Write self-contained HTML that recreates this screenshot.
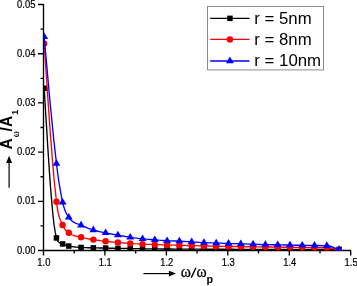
<!DOCTYPE html>
<html><head><meta charset="utf-8"><title>A_omega/A_1 vs omega/omega_p</title>
<style>
html,body{margin:0;padding:0;background:#fff;}
body{width:357px;height:286px;overflow:hidden;position:relative;font-family:"Liberation Sans",sans-serif;}
</style></head><body>
<svg width="357" height="286" viewBox="0 0 357 286" style="position:absolute;left:0;top:0;display:block">
<defs>
<filter id="g" x="0" y="0" width="357" height="286" filterUnits="userSpaceOnUse" color-interpolation-filters="sRGB"><feColorMatrix type="saturate" values="0"/></filter>
<clipPath id="c"><rect x="44.1" y="0" width="312.9" height="251.1"/></clipPath>
</defs>
<rect x="0" y="0" width="357" height="286" fill="#fff"/>
<path d="M43.5,4 L43.5,251 M43,250.45 L351,250.45 M38,250.5 L43.5,250.5 M40.5,225.9 L43.5,225.9 M38,201.3 L43.5,201.3 M40.5,176.7 L43.5,176.7 M38,152.1 L43.5,152.1 M40.5,127.5 L43.5,127.5 M38,102.9 L43.5,102.9 M40.5,78.3 L43.5,78.3 M38,53.7 L43.5,53.7 M40.5,29.1 L43.5,29.1 M38,4.5 L43.5,4.5 M43.5,250.5 L43.5,255.5 M74.2,250.5 L74.2,253.5 M104.9,250.5 L104.9,255.5 M135.7,250.5 L135.7,253.5 M166.4,250.5 L166.4,255.5 M197.1,250.5 L197.1,253.5 M227.8,250.5 L227.8,255.5 M258.5,250.5 L258.5,253.5 M289.3,250.5 L289.3,255.5 M320.0,250.5 L320.0,253.5 M350.7,250.5 L350.7,255.5" fill="none" stroke="#000" stroke-width="1.35"/>
<g clip-path="url(#c)">
<path d="M44.2,88.2 L45.4,108.8 L46.7,129.1 L47.9,148.7 L49.1,167.2 L50.3,184.4 L51.6,199.9 L52.8,213.4 L54.0,224.4 L55.3,232.7 L56.5,238.0 L57.1,239.6 L57.7,240.8 L58.3,241.7 L58.9,242.3 L59.6,242.7 L60.2,243.0 L60.8,243.2 L61.4,243.4 L62.0,243.7 L62.6,244.0 L63.2,244.4 L63.9,244.7 L64.5,245.0 L65.1,245.2 L65.7,245.4 L66.3,245.6 L66.9,245.7 L67.5,245.8 L68.2,246.0 L68.8,246.1 L70.0,246.4 L71.2,246.6 L72.5,246.7 L73.7,246.9 L74.9,247.0 L76.1,247.1 L77.4,247.2 L78.6,247.2 L79.8,247.3 L81.1,247.4 L82.3,247.5 L83.5,247.5 L84.8,247.6 L86.0,247.6 L87.2,247.7 L88.4,247.7 L89.7,247.7 L90.9,247.7 L92.1,247.8 L93.4,247.8 L94.6,247.8 L95.8,247.9 L97.0,247.9 L98.3,247.9 L99.5,248.0 L100.7,248.0 L102.0,248.0 L103.2,248.0 L104.4,248.1 L105.6,248.1 L106.9,248.1 L108.1,248.1 L109.3,248.2 L110.6,248.2 L111.8,248.2 L113.0,248.2 L114.2,248.2 L115.5,248.3 L116.7,248.3 L117.9,248.3 L119.2,248.3 L120.4,248.3 L121.6,248.4 L122.8,248.4 L124.1,248.4 L125.3,248.4 L126.5,248.4 L127.8,248.5 L129.0,248.5 L130.2,248.5 L134.3,248.6 L138.4,248.6 L142.5,248.7 L146.6,248.8 L150.7,248.8 L154.8,248.9 L158.9,248.9 L163.0,249.0 L167.1,249.0 L171.2,249.0 L175.3,249.1 L179.4,249.1 L183.5,249.1 L187.6,249.1 L191.7,249.1 L195.8,249.1 L199.8,249.2 L203.9,249.2 L208.0,249.2 L212.1,249.2 L216.2,249.2 L220.3,249.2 L224.4,249.2 L228.5,249.2 L232.6,249.2 L236.7,249.3 L240.8,249.3 L244.9,249.3 L249.0,249.3 L253.1,249.3 L257.2,249.3 L261.3,249.3 L265.4,249.3 L269.5,249.3 L273.6,249.3 L277.7,249.3 L281.8,249.3 L285.9,249.4 L290.0,249.4 L294.1,249.4 L298.2,249.4 L302.2,249.4 L306.3,249.4 L310.4,249.4 L314.5,249.4 L318.6,249.4 L322.7,249.4 L326.8,249.4 L330.9,249.4 L335.0,249.3 L339.1,249.3" fill="none" stroke="#000" stroke-width="1.35" stroke-linejoin="round"/>
<g fill="#000"><rect x="41.5" y="85.5" width="5.5" height="5.5"/><rect x="53.7" y="235.2" width="5.5" height="5.5"/><rect x="59.9" y="241.2" width="5.5" height="5.5"/><rect x="66.0" y="243.3" width="5.5" height="5.5"/><rect x="78.3" y="244.7" width="5.5" height="5.5"/><rect x="90.6" y="245.1" width="5.5" height="5.5"/><rect x="102.9" y="245.3" width="5.5" height="5.5"/><rect x="115.2" y="245.6" width="5.5" height="5.5"/><rect x="127.5" y="245.8" width="5.5" height="5.5"/><rect x="139.8" y="245.9" width="5.5" height="5.5"/><rect x="152.0" y="246.2" width="5.5" height="5.5"/><rect x="164.3" y="246.2" width="5.5" height="5.5"/><rect x="176.6" y="246.3" width="5.5" height="5.5"/><rect x="188.9" y="246.3" width="5.5" height="5.5"/><rect x="201.2" y="246.4" width="5.5" height="5.5"/><rect x="213.5" y="246.4" width="5.5" height="5.5"/><rect x="225.8" y="246.4" width="5.5" height="5.5"/><rect x="238.1" y="246.6" width="5.5" height="5.5"/><rect x="250.3" y="246.6" width="5.5" height="5.5"/><rect x="262.6" y="246.6" width="5.5" height="5.5"/><rect x="274.9" y="246.6" width="5.5" height="5.5"/><rect x="287.2" y="246.7" width="5.5" height="5.5"/><rect x="299.5" y="246.7" width="5.5" height="5.5"/><rect x="311.8" y="246.7" width="5.5" height="5.5"/><rect x="324.1" y="246.7" width="5.5" height="5.5"/><rect x="336.4" y="246.6" width="5.5" height="5.5"/></g>
<path d="M44.2,43.6 L45.4,62.2 L46.7,80.6 L47.9,98.7 L49.1,116.3 L50.3,133.2 L51.6,149.3 L52.8,164.3 L54.0,178.2 L55.3,190.8 L56.5,201.8 L57.1,206.5 L57.7,210.3 L58.3,213.4 L58.9,215.8 L59.6,217.9 L60.2,219.5 L60.8,220.9 L61.4,222.2 L62.0,223.6 L62.6,225.0 L63.2,226.4 L63.9,227.6 L64.5,228.6 L65.1,229.5 L65.7,230.2 L66.3,230.8 L66.9,231.4 L67.5,231.8 L68.2,232.3 L68.8,232.8 L70.0,233.7 L71.2,234.4 L72.5,235.0 L73.7,235.5 L74.9,235.9 L76.1,236.2 L77.4,236.5 L78.6,236.7 L79.8,237.0 L81.1,237.3 L82.3,237.6 L83.5,237.9 L84.8,238.2 L86.0,238.4 L87.2,238.6 L88.4,238.8 L89.7,239.0 L90.9,239.2 L92.1,239.4 L93.4,239.6 L94.6,239.8 L95.8,240.0 L97.0,240.2 L98.3,240.3 L99.5,240.5 L100.7,240.7 L102.0,240.8 L103.2,241.0 L104.4,241.2 L105.6,241.3 L106.9,241.4 L108.1,241.6 L109.3,241.7 L110.6,241.8 L111.8,242.0 L113.0,242.1 L114.2,242.2 L115.5,242.3 L116.7,242.4 L117.9,242.5 L119.2,242.6 L120.4,242.7 L121.6,242.8 L122.8,242.9 L124.1,243.0 L125.3,243.1 L126.5,243.2 L127.8,243.2 L129.0,243.3 L130.2,243.4 L134.3,243.7 L138.4,243.9 L142.5,244.1 L146.6,244.3 L150.7,244.4 L154.8,244.6 L158.9,244.7 L163.0,244.9 L167.1,245.0 L171.2,245.1 L175.3,245.2 L179.4,245.3 L183.5,245.4 L187.6,245.5 L191.7,245.6 L195.8,245.7 L199.8,245.8 L203.9,245.9 L208.0,246.0 L212.1,246.1 L216.2,246.2 L220.3,246.3 L224.4,246.3 L228.5,246.4 L232.6,246.5 L236.7,246.5 L240.8,246.6 L244.9,246.7 L249.0,246.7 L253.1,246.8 L257.2,246.9 L261.3,246.9 L265.4,247.0 L269.5,247.0 L273.6,247.1 L277.7,247.1 L281.8,247.2 L285.9,247.2 L290.0,247.3 L294.1,247.3 L298.2,247.4 L302.2,247.4 L306.3,247.4 L310.4,247.5 L314.5,247.5 L318.6,247.5 L322.7,247.5 L326.8,247.6 L330.9,248.2 L335.0,249.3 L339.1,250.4" fill="none" stroke="#f00" stroke-width="1.35" stroke-linejoin="round"/>
<g fill="#f00"><circle cx="44.2" cy="43.6" r="3.2"/><circle cx="56.5" cy="201.8" r="3.2"/><circle cx="62.6" cy="225.0" r="3.2"/><circle cx="68.8" cy="232.8" r="3.2"/><circle cx="81.1" cy="237.3" r="3.2"/><circle cx="93.4" cy="239.6" r="3.2"/><circle cx="105.6" cy="241.3" r="3.2"/><circle cx="117.9" cy="242.5" r="3.2"/><circle cx="130.2" cy="243.4" r="3.2"/><circle cx="142.5" cy="244.1" r="3.2"/><circle cx="154.8" cy="244.6" r="3.2"/><circle cx="167.1" cy="245.0" r="3.2"/><circle cx="179.4" cy="245.3" r="3.2"/><circle cx="191.7" cy="245.6" r="3.2"/><circle cx="203.9" cy="245.9" r="3.2"/><circle cx="216.2" cy="246.2" r="3.2"/><circle cx="228.5" cy="246.4" r="3.2"/><circle cx="240.8" cy="246.6" r="3.2"/><circle cx="253.1" cy="246.8" r="3.2"/><circle cx="265.4" cy="247.0" r="3.2"/><circle cx="277.7" cy="247.1" r="3.2"/><circle cx="290.0" cy="247.3" r="3.2"/><circle cx="302.2" cy="247.4" r="3.2"/><circle cx="314.5" cy="247.5" r="3.2"/><circle cx="326.8" cy="247.6" r="3.2"/><circle cx="339.1" cy="250.4" r="3.2"/></g>
<path d="M44.2,36.9 L45.4,50.8 L46.7,64.6 L47.9,78.3 L49.1,91.7 L50.3,104.9 L51.6,117.7 L52.8,130.0 L54.0,141.8 L55.3,153.0 L56.5,163.6 L57.1,168.6 L57.7,173.3 L58.3,177.8 L58.9,182.0 L59.6,186.0 L60.2,189.7 L60.8,193.2 L61.4,196.5 L62.0,199.5 L62.6,202.3 L63.2,204.8 L63.9,207.0 L64.5,208.9 L65.1,210.5 L65.7,212.0 L66.3,213.2 L66.9,214.4 L67.5,215.4 L68.2,216.4 L68.8,217.3 L70.0,219.0 L71.2,220.3 L72.5,221.4 L73.7,222.2 L74.9,222.8 L76.1,223.3 L77.4,223.8 L78.6,224.2 L79.8,224.6 L81.1,225.2 L82.3,225.8 L83.5,226.4 L84.8,226.9 L86.0,227.4 L87.2,227.9 L88.4,228.4 L89.7,228.8 L90.9,229.2 L92.1,229.6 L93.4,230.0 L94.6,230.4 L95.8,230.7 L97.0,231.0 L98.3,231.3 L99.5,231.6 L100.7,231.9 L102.0,232.1 L103.2,232.4 L104.4,232.6 L105.6,232.9 L106.9,233.1 L108.1,233.4 L109.3,233.6 L110.6,233.8 L111.8,234.0 L113.0,234.3 L114.2,234.5 L115.5,234.7 L116.7,234.9 L117.9,235.1 L119.2,235.3 L120.4,235.6 L121.6,235.8 L122.8,236.0 L124.1,236.2 L125.3,236.5 L126.5,236.7 L127.8,236.9 L129.0,237.1 L130.2,237.3 L134.3,237.9 L138.4,238.4 L142.5,238.8 L146.6,239.2 L150.7,239.5 L154.8,239.8 L158.9,240.2 L163.0,240.5 L167.1,240.8 L171.2,240.9 L175.3,241.0 L179.4,241.1 L183.5,241.3 L187.6,241.6 L191.7,241.9 L195.8,242.1 L199.8,242.4 L203.9,242.6 L208.0,242.8 L212.1,242.9 L216.2,243.1 L220.3,243.2 L224.4,243.4 L228.5,243.5 L232.6,243.6 L236.7,243.7 L240.8,243.8 L244.9,243.9 L249.0,244.1 L253.1,244.2 L257.2,244.3 L261.3,244.5 L265.4,244.6 L269.5,244.7 L273.6,244.7 L277.7,244.8 L281.8,244.9 L285.9,245.0 L290.0,245.1 L294.1,245.2 L298.2,245.2 L302.2,245.3 L306.3,245.4 L310.4,245.4 L314.5,245.5 L318.6,245.5 L322.7,245.6 L326.8,245.7 L330.9,246.5 L335.0,248.1 L339.1,249.7" fill="none" stroke="#00f" stroke-width="1.35" stroke-linejoin="round"/>
<g fill="#00f"><path d="M44.2,32.5 L48.2,39.1 L40.2,39.1Z"/><path d="M56.5,159.2 L60.4,165.8 L52.5,165.8Z"/><path d="M62.6,197.9 L66.6,204.5 L58.7,204.5Z"/><path d="M68.8,212.9 L72.7,219.5 L64.8,219.5Z"/><path d="M81.1,220.8 L85.0,227.4 L77.1,227.4Z"/><path d="M93.4,225.6 L97.3,232.2 L89.4,232.2Z"/><path d="M105.6,228.5 L109.6,235.1 L101.7,235.1Z"/><path d="M117.9,230.7 L121.9,237.3 L114.0,237.3Z"/><path d="M130.2,232.9 L134.2,239.5 L126.3,239.5Z"/><path d="M142.5,234.4 L146.5,241.0 L138.6,241.0Z"/><path d="M154.8,235.4 L158.7,242.0 L150.8,242.0Z"/><path d="M167.1,236.4 L171.0,243.0 L163.1,243.0Z"/><path d="M179.4,236.7 L183.3,243.3 L175.4,243.3Z"/><path d="M191.7,237.5 L195.6,244.1 L187.7,244.1Z"/><path d="M203.9,238.2 L207.9,244.8 L200.0,244.8Z"/><path d="M216.2,238.7 L220.2,245.3 L212.3,245.3Z"/><path d="M228.5,239.1 L232.5,245.7 L224.6,245.7Z"/><path d="M240.8,239.4 L244.8,246.0 L236.9,246.0Z"/><path d="M253.1,239.8 L257.0,246.4 L249.1,246.4Z"/><path d="M265.4,240.2 L269.3,246.8 L261.4,246.8Z"/><path d="M277.7,240.4 L281.6,247.0 L273.7,247.0Z"/><path d="M290.0,240.7 L293.9,247.3 L286.0,247.3Z"/><path d="M302.2,240.9 L306.2,247.5 L298.3,247.5Z"/><path d="M314.5,241.1 L318.5,247.7 L310.6,247.7Z"/><path d="M326.8,241.3 L330.8,247.9 L322.9,247.9Z"/><path d="M339.1,245.3 L343.1,251.9 L335.2,251.9Z"/></g>
</g>
<rect x="207.5" y="6.5" width="116" height="63.4" fill="#fff" stroke="#8c8c8c" stroke-width="1"/>
<path d="M210.2,18.3 L249.5,18.3" stroke="#000" stroke-width="1.15" fill="none"/>
<path d="M210.2,39.4 L249.5,39.4" stroke="#f00" stroke-width="1.2" fill="none"/>
<path d="M210.2,61.0 L249.5,61.0" stroke="#00f" stroke-width="1.45" fill="none"/>
<g fill="#000"><rect x="227.2" y="15.6" width="5.5" height="5.5"/></g>
<g fill="#f00"><circle cx="229.9" cy="39.4" r="3.2"/></g>
<g fill="#00f"><path d="M229.9,56.6 L233.8,63.2 L226.0,63.2Z"/></g>
<path d="M9.1,187.7 L9.1,162" stroke="#000" stroke-width="1.2" fill="none"/>
<path d="M9.1,155.8 L12.1,163 L6.1,163Z" fill="#000"/>
<path d="M143.4,273.6 L170,273.6" stroke="#000" stroke-width="1.15" fill="none"/>
<path d="M176.0,273.6 L168.9,270.7 L168.9,276.5Z" fill="#000"/>
<path d="M191.3,277.6 L195.9,267.7" stroke="#000" stroke-width="1.35" fill="none"/>
<g filter="url(#g)" fill="#000" font-family="Liberation Sans, sans-serif">
<g font-size="10.1" stroke="#000" stroke-width="0.22">
<text transform="translate(35.4,253.6) scale(0.93,1)" text-anchor="end">0.00</text>
<text transform="translate(35.4,204.4) scale(0.93,1)" text-anchor="end">0.01</text>
<text transform="translate(35.4,155.2) scale(0.93,1)" text-anchor="end">0.02</text>
<text transform="translate(35.4,106.0) scale(0.93,1)" text-anchor="end">0.03</text>
<text transform="translate(35.4,56.8) scale(0.93,1)" text-anchor="end">0.04</text>
<text transform="translate(35.4,7.6) scale(0.93,1)" text-anchor="end">0.05</text>
<text transform="translate(43.9,266.45) scale(0.93,1)" text-anchor="middle">1.0</text>
<text transform="translate(105.3,266.45) scale(0.93,1)" text-anchor="middle">1.1</text>
<text transform="translate(166.8,266.45) scale(0.93,1)" text-anchor="middle">1.2</text>
<text transform="translate(228.2,266.45) scale(0.93,1)" text-anchor="middle">1.3</text>
<text transform="translate(289.7,266.45) scale(0.93,1)" text-anchor="middle">1.4</text>
<text transform="translate(351.1,266.45) scale(0.93,1)" text-anchor="middle">1.5</text>
</g>
<g font-size="15.8">
<text x="254.3" y="24.2" textLength="57.3" lengthAdjust="spacingAndGlyphs">r = 5nm</text>
<text x="254.3" y="45.4" textLength="57.3" lengthAdjust="spacingAndGlyphs">r = 8nm</text>
<text x="254.3" y="66.4" textLength="66.8" lengthAdjust="spacingAndGlyphs">r = 10nm</text>
</g>
<g transform="translate(11.5,149.5) rotate(-90)">
<text x="0" y="0" font-size="15.6" font-weight="bold">A</text>
<text transform="translate(12.3,7.0) scale(0.84,1)" font-size="10" font-weight="bold" font-family="Liberation Serif, serif">ω</text>
<text x="18.0" y="0" font-size="15.6" font-weight="bold">/</text>
<text x="22.5" y="0" font-size="15.6" font-weight="bold">A</text>
<text x="34.6" y="6.7" font-size="9.3" font-weight="bold">1</text>
</g>
<g font-family="Liberation Serif, serif" font-size="16.6" stroke="#000" stroke-width="0.3">
<text transform="translate(180.8,277.0) scale(0.93,1)">ω</text>
<text transform="translate(196.5,277.0) scale(0.93,1)">ω</text>
</g>
<text x="206.6" y="282.6" font-size="10.8" font-weight="bold">p</text>
</g>
</svg>
</body></html>
